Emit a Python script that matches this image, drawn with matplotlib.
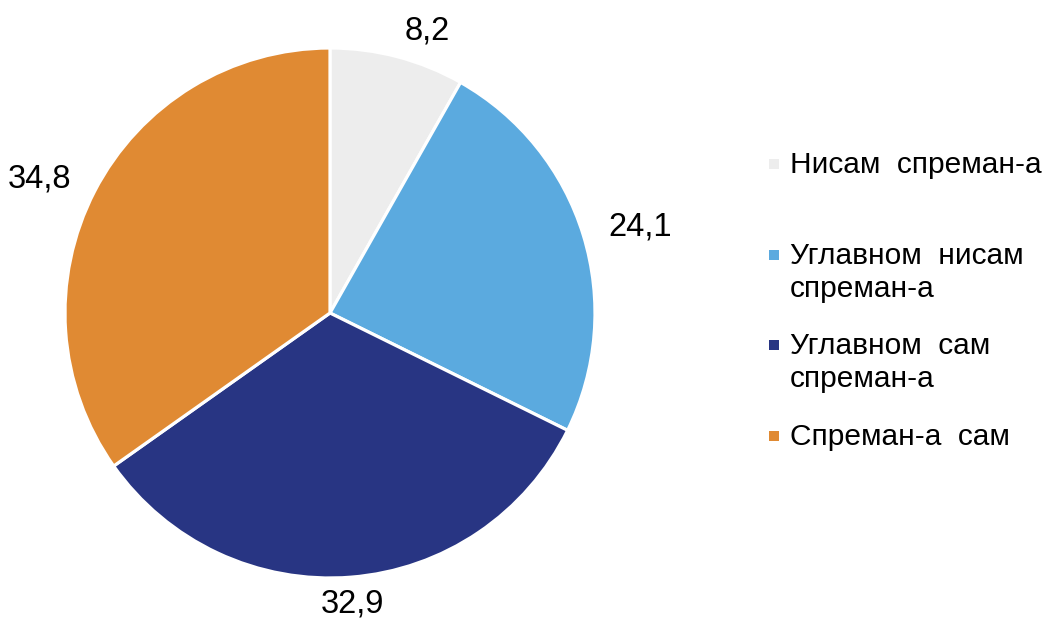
import matplotlib.pyplot as plt
from matplotlib.patches import Rectangle

# Data
values = [8.2, 24.1, 32.9, 34.8]
value_labels = ["8,2", "24,1", "32,9", "34,8"]
legend_labels = [
    ["Нисам  спреман-а"],
    ["Углавном  нисам", "спреман-а"],
    ["Углавном  сам", "спреман-а"],
    ["Спреман-а  сам"],
]
colors = ["#EDEDED", "#5BAADF", "#283583", "#E08A33"]

W, H = 1049, 628
plt.rcParams['font.family'] = ['Liberation Sans', 'DejaVu Sans']

fig = plt.figure(figsize=(W / 100, H / 100), dpi=100)
ax = fig.add_axes([65 / W, 50 / H, 530 / W, 530 / H])

wedges, texts = ax.pie(values, labels=value_labels, colors=colors,
                       startangle=90, counterclock=False, labeldistance=1.1,
                       wedgeprops=dict(edgecolor="white", linewidth=2.3),
                       textprops=dict(fontsize=23.5, color="black"))
texts[2].set_ha("center")
ax.set_xlim(-1, 1)
ax.set_ylim(-1, 1)
ax.set_aspect("equal")

# Legend drawn by hand: small squares + wrapped text
fontsize = 21.5
line_gap = 33
entry_step = 90.7
for i, (lines, c) in enumerate(zip(legend_labels, colors)):
    y = 173 + i * entry_step  # baseline of first line, pixels from top
    fig.patches.append(Rectangle((769 / W, 1 - (y - 4) / H), 10 / W, 10 / H,
                                 transform=fig.transFigure, facecolor=c,
                                 edgecolor="none"))
    for j, ln in enumerate(lines):
        fig.text(790 / W, 1 - (y + j * line_gap) / H, ln,
                 fontsize=fontsize, va="baseline", ha="left")

fig.savefig("out.png", dpi=100)
